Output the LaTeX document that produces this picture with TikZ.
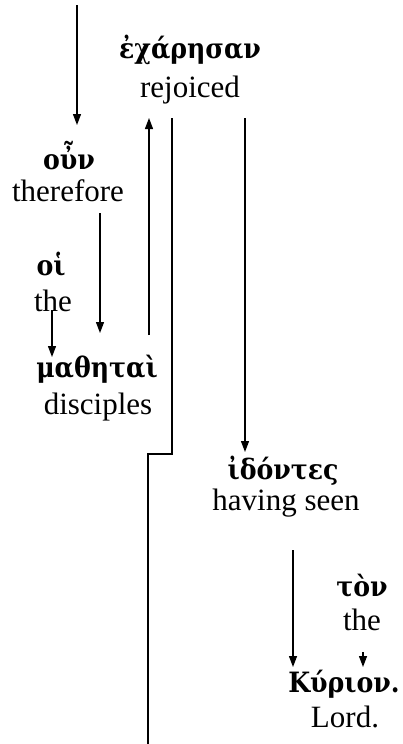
\documentclass[tikz,border=0pt]{standalone}
\usepackage{fontspec}
\setmainfont{Liberation Serif}
\newfontfamily\grk{DejaVu Serif Condensed}
\usetikzlibrary{arrows.meta,calc}
\begin{document}
\begin{tikzpicture}[x=1pt,y=-1pt,
  gk/.style={font=\grk\fontsize{28}{33}\selectfont\bfseries, inner sep=0pt, anchor=base},
  en/.style={font=\fontsize{31}{37}\selectfont, inner sep=0pt, anchor=base},
  arr/.style={line width=1.3pt, -{Triangle[length=11pt,width=8pt]}},
  ln/.style={line width=1.3pt}]
\useasboundingbox (0,0) rectangle (403,744);
% words
\node[gk] (g1) at (190,58) {ἐχάρησαν};
\node[en] (e1) at (190,97) {rejoiced};
\node[gk] (g2) at (69,169) {οὖν};
\node[en] (e2) at (68,201) {therefore};
\node[gk] (g3) at (51,275) {οἱ};
\node[en] (e3) at (53,311) {the};
\node[gk] (g4) at (97,377) {μαθηταὶ};
\node[en] (e4) at (98,414) {disciples};
\node[gk] (g5) at (283,479) {ἰδόντες};
\node[en] (e5) at (286,510) {having seen};
\node[gk] (g6) at (362,596) {τὸν};
\node[en] (e6) at (362,630) {the};
\node[gk] (g7) at (344,692) {Κύριον.};
\node[en] (e7) at (345,727) {Lord.};
% free ends
\coordinate (top) at (77,5);
\coordinate (s2) at (149,335);
\coordinate (s3) at (172,118);
\coordinate (k1) at (172,454);
\coordinate (k2) at (148,454);
\coordinate (bot) at (148,744);
\coordinate (s4) at (245,118);
\coordinate (s5) at (100,213);
\coordinate (s6) at (52,310);
\coordinate (s7) at (293,550);
\coordinate (s8) at (363,652);
% connectors
\draw[arr] (top) -- (top |- 0,125);
\draw[arr] (s2) -- (s2 |- 0,118);
\draw[ln] (s3) -- (k1) -- (k2) -- (bot);
\draw[arr] (s4) -- (s4 |- 0,452);
\draw[arr] (s5) -- (s5 |- 0,333);
\draw[arr] (s6) -- (s6 |- 0,357);
\draw[arr] (s7) -- (s7 |- 0,667);
\draw[arr] (s8) -- (s8 |- 0,667);
\end{tikzpicture}
\end{document}
